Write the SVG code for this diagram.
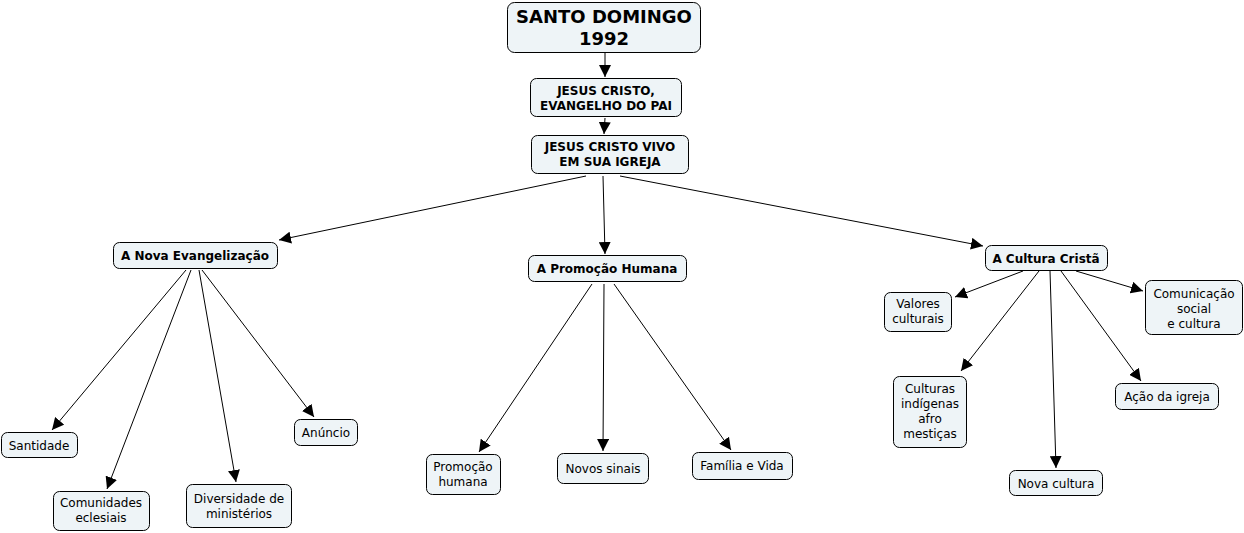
<svg xmlns="http://www.w3.org/2000/svg" width="1244" height="533" viewBox="0 0 1244 533">
<style>
.n rect{fill:#eef4f7;stroke:#000;stroke-width:1}
text{font-family:"DejaVu Sans",Verdana,sans-serif;font-size:12px;fill:#000;text-anchor:middle}
.b{font-weight:bold}
.big{font-size:18px;font-weight:bold}
#connectors line{stroke:#000;stroke-width:1;marker-end:url(#ah)}
</style>
<defs>
<marker id="ah" viewBox="0 0 10 10" refX="10" refY="5" markerWidth="12" markerHeight="12" markerUnits="userSpaceOnUse" orient="auto">
<path d="M0,0 L10,5 L0,10 z" fill="#000"/>
</marker>
</defs>
<rect width="1244" height="533" fill="#fff"/>
<g id="connectors">
<line x1="605" y1="53" x2="605" y2="77"/>
<line x1="605" y1="118" x2="604" y2="134"/>
<line x1="586" y1="176" x2="279" y2="240"/>
<line x1="603" y1="176" x2="605" y2="254"/>
<line x1="620" y1="176" x2="983" y2="246"/>
<line x1="186" y1="270" x2="52" y2="430"/>
<line x1="191" y1="270" x2="107" y2="489"/>
<line x1="199" y1="270" x2="236" y2="482"/>
<line x1="202" y1="270" x2="314" y2="417"/>
<line x1="592" y1="284" x2="479" y2="452"/>
<line x1="604" y1="284" x2="603" y2="451"/>
<line x1="614" y1="284" x2="731" y2="450"/>
<line x1="1023" y1="271" x2="955" y2="297"/>
<line x1="1039" y1="271" x2="961" y2="371"/>
<line x1="1050" y1="271" x2="1056" y2="468"/>
<line x1="1061" y1="271" x2="1141" y2="381"/>
<line x1="1076" y1="271" x2="1143" y2="291"/>
</g>
<g id="santo-domingo" class="n"><rect x="507.5" y="2.5" width="193" height="50" rx="7"/><text class="big" x="604" y="23">SANTO DOMINGO</text><text class="big" x="604" y="45">1992</text></g>
<g id="jesus-cristo" class="n"><rect x="530.5" y="78.5" width="151" height="38" rx="6"/><text class="b" x="606" y="95">JESUS CRISTO,</text><text class="b" x="606" y="110">EVANGELHO DO PAI</text></g>
<g id="jesus-vivo" class="n"><rect x="531.5" y="135.5" width="157" height="38" rx="6"/><text class="b" x="610" y="151">JESUS CRISTO VIVO</text><text class="b" x="610" y="166">EM SUA IGREJA</text></g>
<g id="nova-evangelizacao" class="n"><rect x="113.5" y="242.5" width="164" height="26" rx="6"/><text class="b" x="195" y="260">A Nova Evangelização</text></g>
<g id="promocao-humana-main" class="n"><rect x="528.5" y="255.5" width="158" height="26" rx="6"/><text class="b" x="607" y="273">A Promoção Humana</text></g>
<g id="cultura-crista" class="n"><rect x="985.5" y="245.5" width="122" height="25" rx="6"/><text class="b" x="1046" y="262.5">A Cultura Cristã</text></g>
<g id="santidade" class="n"><rect x="1.5" y="432.5" width="76" height="25" rx="6"/><text x="39" y="449.5">Santidade</text></g>
<g id="comunidades" class="n"><rect x="53.5" y="491.5" width="96" height="39" rx="6"/><text x="101" y="507">Comunidades</text><text x="101" y="522">eclesiais</text></g>
<g id="diversidade" class="n"><rect x="186.5" y="484.5" width="105" height="43" rx="6"/><text x="239" y="503">Diversidade de</text><text x="239" y="518">ministérios</text></g>
<g id="anuncio" class="n"><rect x="294.5" y="419.5" width="63" height="26" rx="6"/><text x="326" y="436.5">Anúncio</text></g>
<g id="promocao-humana" class="n"><rect x="426.5" y="454.5" width="74" height="40" rx="6"/><text x="463" y="471">Promoção</text><text x="463" y="486">humana</text></g>
<g id="novos-sinais" class="n"><rect x="557.5" y="453.5" width="91" height="30" rx="6"/><text x="603" y="472.5">Novos sinais</text></g>
<g id="familia-vida" class="n"><rect x="692.5" y="452.5" width="100" height="27" rx="6"/><text x="742" y="470">Família e Vida</text></g>
<g id="valores" class="n"><rect x="884.5" y="292.5" width="67" height="39" rx="6"/><text x="918" y="308">Valores</text><text x="918" y="323">culturais</text></g>
<g id="comunicacao" class="n"><rect x="1145.5" y="280.5" width="97" height="54" rx="6"/><text x="1194" y="298">Comunicação</text><text x="1194" y="313">social</text><text x="1194" y="328">e cultura</text></g>
<g id="culturas-indigenas" class="n"><rect x="893.5" y="376.5" width="73" height="71" rx="6"/><text x="930" y="393">Culturas</text><text x="930" y="408">indígenas</text><text x="930" y="423">afro</text><text x="930" y="438">mestiças</text></g>
<g id="acao-igreja" class="n"><rect x="1115.5" y="383.5" width="103" height="26" rx="6"/><text x="1167" y="400.5">Ação da igreja</text></g>
<g id="nova-cultura" class="n"><rect x="1009.5" y="470.5" width="93" height="25" rx="6"/><text x="1056" y="487.5">Nova cultura</text></g>
</svg>
